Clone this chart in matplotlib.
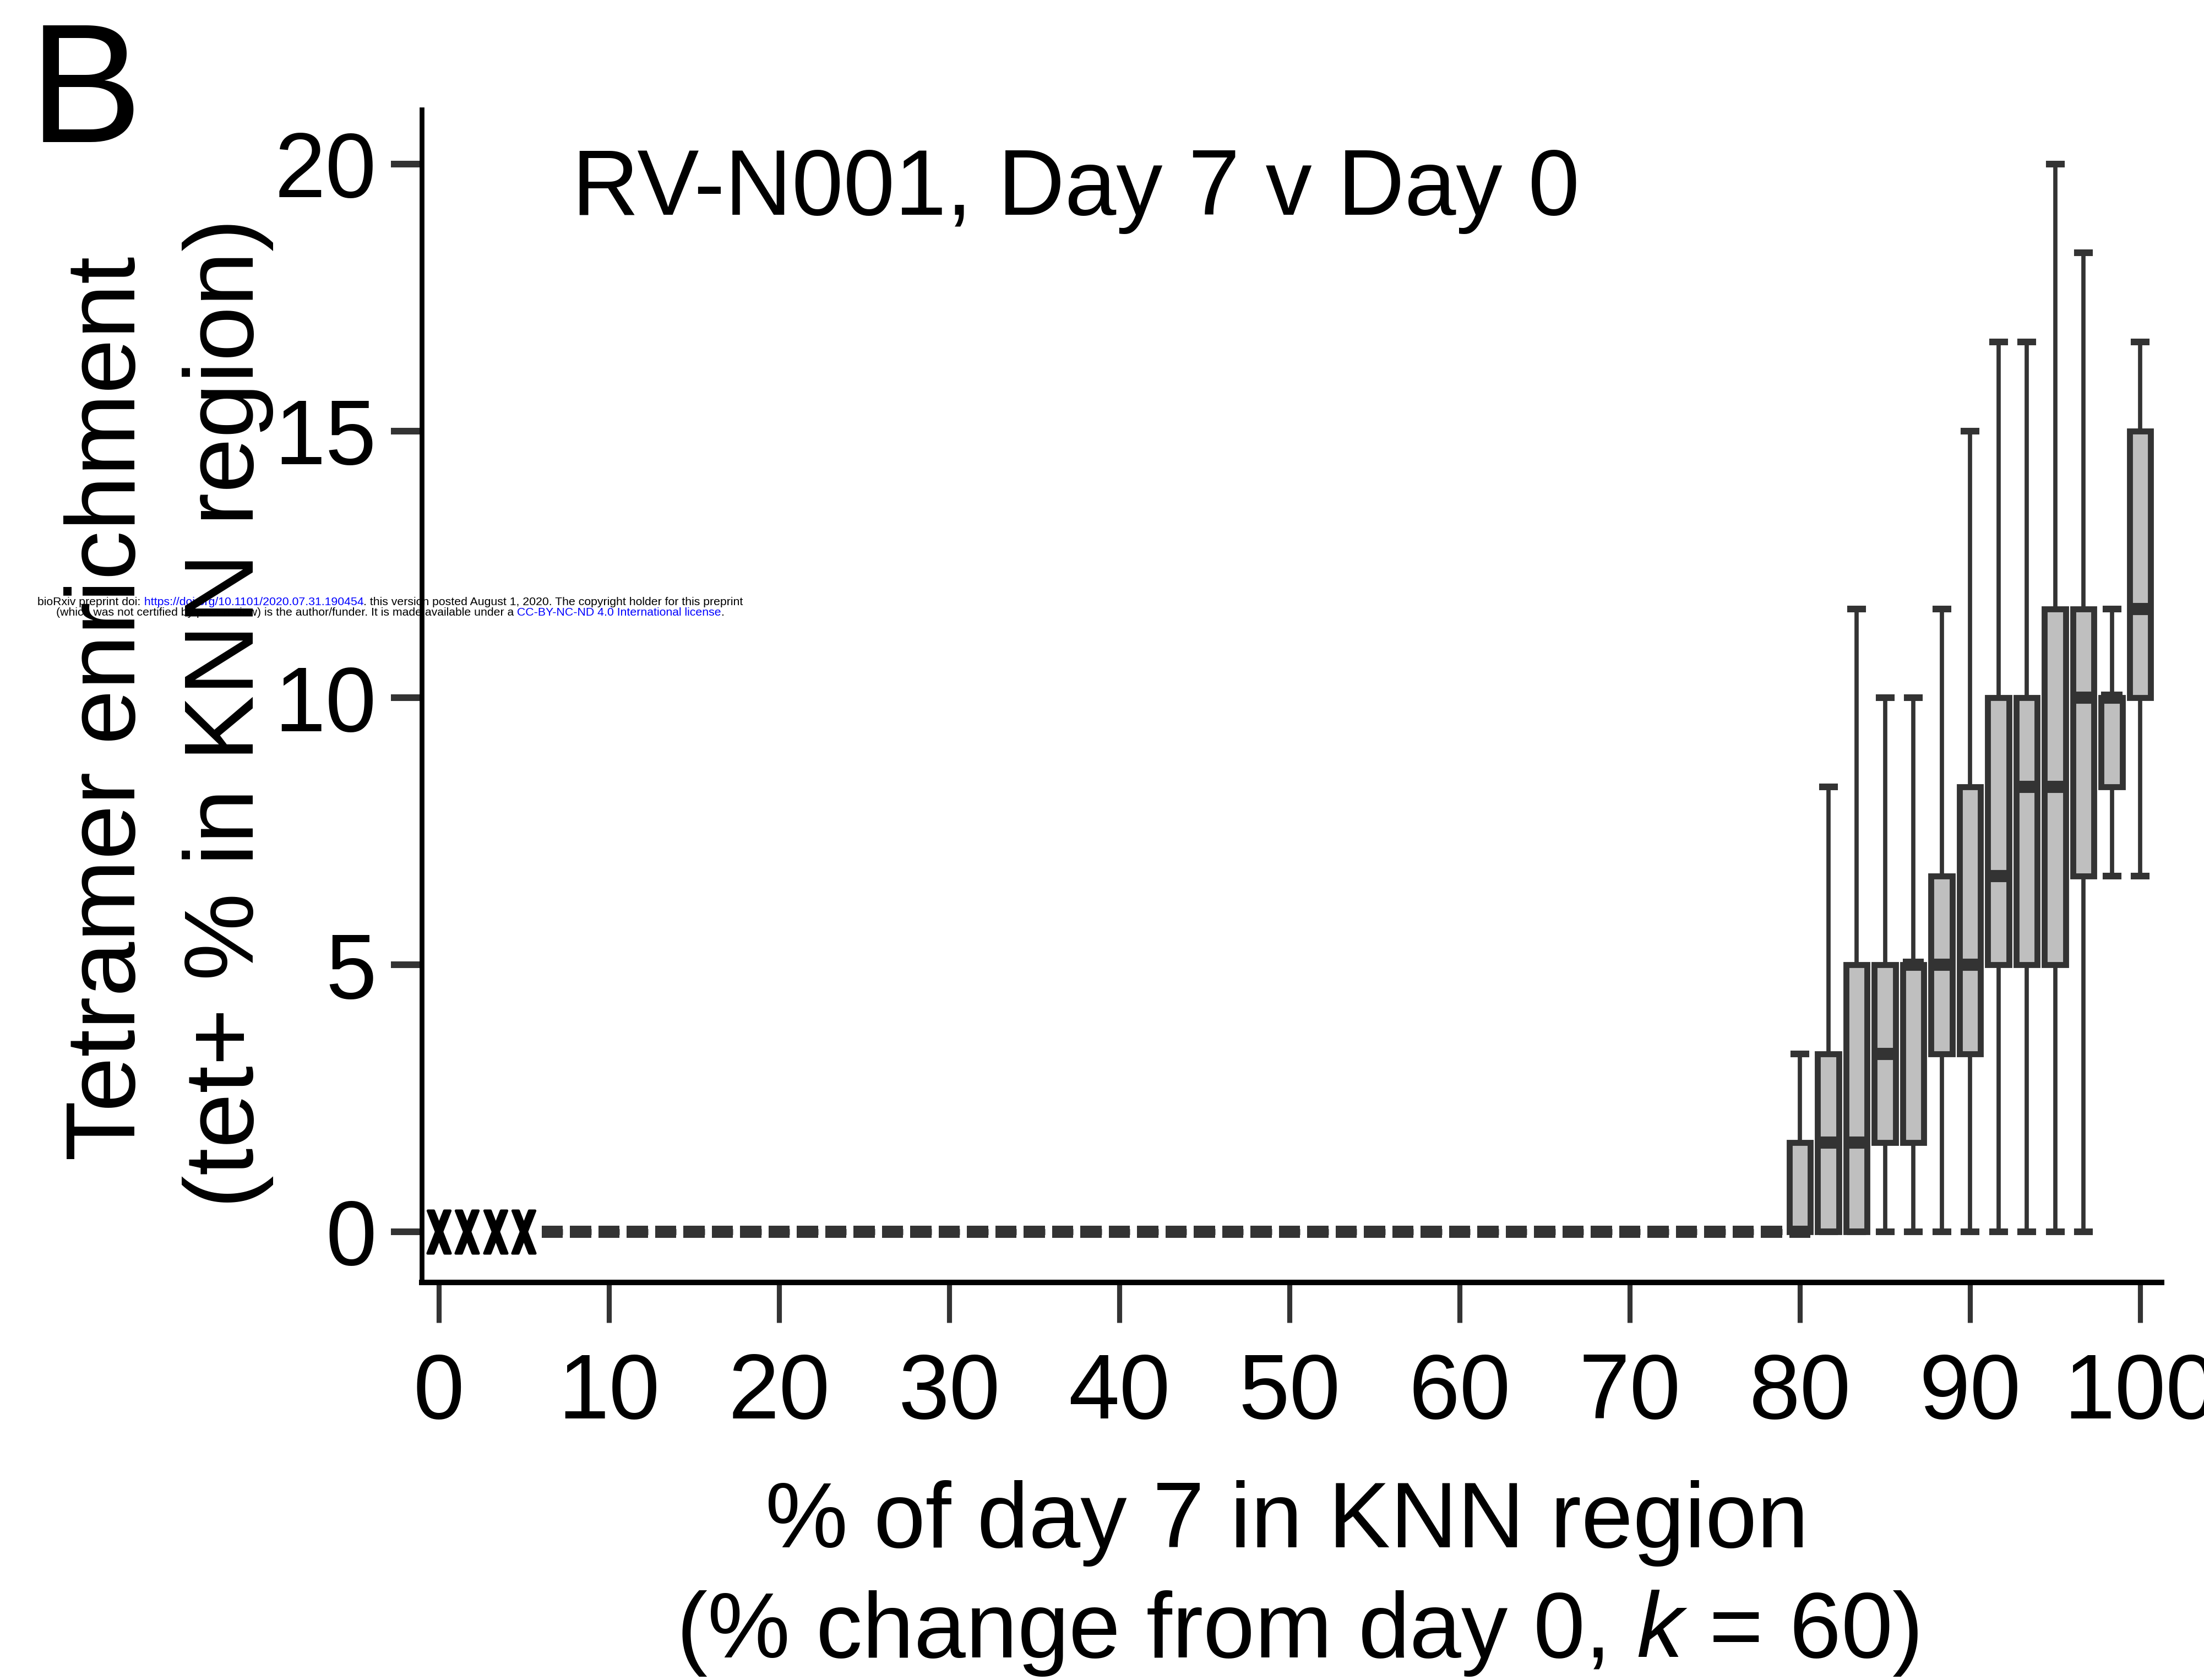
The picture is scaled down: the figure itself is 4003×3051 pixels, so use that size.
import numpy as np
import matplotlib
matplotlib.use('Agg')
import matplotlib.pyplot as plt
from matplotlib.textpath import TextPath
from matplotlib.font_manager import FontProperties
from matplotlib.transforms import Affine2D
from matplotlib.offsetbox import TextArea, HPacker, VPacker, AnnotationBbox

plt.rcParams['font.family'] = ['Liberation Sans', 'DejaVu Sans']
plt.rcParams['mathtext.fontset'] = 'custom'
plt.rcParams['mathtext.rm'] = 'Liberation Sans'
plt.rcParams['mathtext.it'] = 'Liberation Sans:italic'

K = 60
# day-7 cells among the k neighbours -> % of day 7 in the region
day7_cells = np.arange(K + 1)
x_pct = day7_cells * 100 / K

# bins with no regions (marked X)
empty_bins = [0, 1, 2, 3]
# bins where all regions have zero tetramer enrichment
zero_bins = list(range(4, 48))
# bins with a spread, values as tet+ cells out of k
box_bins = [48, 49, 50, 51, 52, 53, 54, 55, 56, 57, 58, 59, 60]
wlo_cells = [0, 0, 0, 0, 0, 0, 0, 0, 0, 0, 0, 4, 4]
q1_cells = [0, 0, 0, 1, 1, 2, 2, 3, 3, 3, 4, 5, 6]
med_cells = [0, 1, 1, 2, 3, 3, 3, 4, 5, 5, 6, 6, 7]
q3_cells = [1, 2, 3, 3, 3, 4, 5, 6, 6, 7, 7, 6, 9]
whi_cells = [2, 5, 7, 6, 6, 7, 9, 10, 10, 12, 11, 7, 10]

xticks = list(range(0, 101, 10))
yticks = [0, 5, 10, 15, 20]

wm_line1 = [("bioRxiv preprint doi:", "black"),
            (" https://doi.org/10.1101/2020.07.31.190454", "blue"),
            (". this version posted August 1, 2020. The copyright holder for this preprint", "black")]
wm_line2 = [("(which was not certified by peer review) is the author/funder. It is made available under a", "black"),
            (" CC-BY-NC-ND 4.0 International license", "blue"),
            (".", "black")]

W, H = 4004, 3051
fig = plt.figure(figsize=(W / 300, H / 300), dpi=300)
ax = fig.add_axes([766 / W, 1 - 2329 / H, (3926 - 766) / W, (2329 - 199) / H])
ax.patch.set_alpha(0)

f = 100 / K
stats, pos = [], []
for b in zero_bins:
    stats.append(dict(med=0, q1=0, q3=0, whislo=0, whishi=0, fliers=[]))
    pos.append(x_pct[b])
for i, b in enumerate(box_bins):
    stats.append(dict(med=med_cells[i] * f, q1=q1_cells[i] * f, q3=q3_cells[i] * f,
                      whislo=wlo_cells[i] * f, whishi=whi_cells[i] * f, fliers=[]))
    pos.append(x_pct[b])

edge = '#333333'
ax.bxp(stats, positions=pos, widths=1.24, capwidths=0.71, patch_artist=True,
       showfliers=False, manage_ticks=False,
       boxprops=dict(facecolor='#bfbfbf', edgecolor=edge, linewidth=2.6),
       whiskerprops=dict(color=edge, linewidth=1.85),
       capprops=dict(color=edge, linewidth=2.9),
       medianprops=dict(color=edge, linewidth=5.3, solid_capstyle='butt'))

# X markers for empty bins
tp = TextPath((0, 0), 'X', size=1, prop=FontProperties(family='DejaVu Sans Mono', weight='bold'))
ext = tp.get_extents()
xmark = tp.transformed(Affine2D().translate(-(ext.x0 + ext.x1) / 2, -(ext.y0 + ext.y1) / 2).scale(0.68, 1))
ax.plot(x_pct[empty_bins], np.zeros(len(empty_bins)), ls='none', marker=xmark,
        ms=18.6, color='black', mec='black', mew=1.1)

ax.set_xlim(-1.0, 101.26)
ax.set_ylim(-0.95, 21.02)
ax.set_xticks(xticks)
ax.set_yticks(yticks)
for s in ['top', 'right']:
    ax.spines[s].set_visible(False)
ax.spines['left'].set_linewidth(2.1)
ax.spines['bottom'].set_linewidth(2.4)
ax.tick_params(axis='x', direction='out', length=17.5, width=2.2, color=edge, labelsize=40, pad=12.7)
ax.tick_params(axis='y', direction='out', length=13.5, width=2.9, color=edge, labelsize=40, pad=6.2)

ax.text((1039 - 766) / 3160, (2329 - 390) / 2130, 'RV-N001, Day 7 v Day 0',
        transform=ax.transAxes, ha='left', va='baseline', fontsize=40.4)

fig.text(245 / W, 1 - 1287 / H, 'Tetramer enrichment', rotation=90, rotation_mode='anchor',
         ha='center', va='baseline', fontsize=43)
fig.text(460 / W, 1 - 1295 / H, '(tet+ % in KNN region)', rotation=90, rotation_mode='anchor',
         ha='center', va='baseline', fontsize=43)

fig.text(2337 / W, 1 - 2810 / H, '% of day 7 in KNN region', ha='center', va='baseline', fontsize=40.5)
fig.text(2356 / W, 1 - 3010 / H, '(% change from day 0, $k$ = 60)', ha='center', va='baseline', fontsize=40.5)

fig.text(53 / W, 1 - 258 / H, 'B', ha='left', va='baseline', fontsize=74)

# preprint watermark
renderer = fig.canvas.get_renderer()
t = fig.text(0, 0, ''.join(p for p, c in wm_line1), fontsize=10)
w1 = t.get_window_extent(renderer).width
t.remove()
wm_size = 10 * 1286 / w1


def wm_row(parts):
    return HPacker(children=[TextArea(p, textprops=dict(color=c, fontsize=wm_size)) for p, c in parts],
                   pad=0, sep=0, align='baseline')


wm = VPacker(children=[wm_row(wm_line1), wm_row(wm_line2)], pad=0, sep=0, align='center')
ab = AnnotationBbox(wm, (709 / W, 1 - 1103 / H), xycoords='figure fraction', frameon=False,
                    box_alignment=(0.5, 0.5), pad=0, zorder=-1)
fig.add_artist(ab)

fig.savefig('out.png', dpi=300)
